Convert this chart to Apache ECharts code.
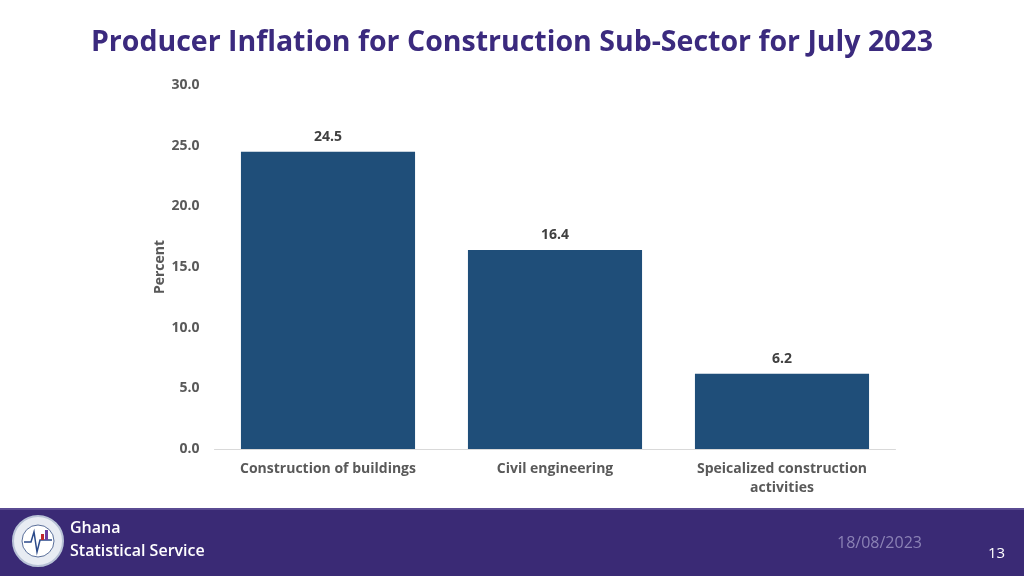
<!DOCTYPE html>
<html><head><meta charset="utf-8">
<script src="https://cdn.jsdelivr.net/npm/echarts@6/dist/echarts.min.js"></script>
<style>html,body{margin:0;padding:0;background:#fff}#c{width:1024px;height:576px}</style>
</head><body><div id="c"></div>
<script>
const categories = ['Construction of buildings', 'Civil engineering', 'Speicalized construction\nactivities'];
const values = [24.5, 16.4, 6.2];
const titleText = 'Producer Inflation for Construction Sub-Sector for July 2023';
const yAxisName = 'Percent';
const footerDate = '18/08/2023';
const pageNo = '13';

const chart = echarts.init(document.getElementById('c'));
chart.setOption({
  backgroundColor: '#ffffff',
  animation: false,
  title: {
    text: titleText, left: 'center', top: 23,
    textStyle: {fontFamily: 'Open Sans', fontWeight: 'bold', fontSize: 28.5, color: '#3b2a7e'}
  },
  grid: {left: 214.5, right: 128.5, top: 85, bottom: 127},
  xAxis: {
    type: 'category', data: categories,
    axisLine: {lineStyle: {color: '#d9d9d9', width: 1}},
    axisTick: {show: false},
    axisLabel: {interval: 0, fontFamily: 'Open Sans', fontWeight: 'bold', fontSize: 14, color: '#595959', margin: 11, lineHeight: 19}
  },
  yAxis: {
    type: 'value', min: 0, max: 30, interval: 5,
    name: yAxisName, nameLocation: 'middle', nameGap: 47, nameRotate: 90, nameMoveOverlap: false,
    nameTextStyle: {fontFamily: 'Open Sans', fontWeight: 'bold', fontSize: 14, color: '#595959'},
    axisLine: {show: false}, axisTick: {show: false}, splitLine: {show: false},
    axisLabel: {formatter: v => v.toFixed(1), fontFamily: 'Open Sans', fontWeight: 'bold', fontSize: 14, color: '#595959', margin: 15}
  },
  series: [{
    type: 'bar', data: values, barCategoryGap: '23.3%',
    itemStyle: {color: '#1f4e79'},
    label: {show: true, position: 'top', distance: 8, formatter: p => p.value.toFixed(1),
      fontFamily: 'Open Sans', fontWeight: 'bold', fontSize: 14, color: '#404040'}
  }],
  graphic: [
    {type: 'rect', shape: {x: 0, y: 508, width: 1024, height: 68}, style: {fill: '#3a2a75'}, z: -1},
    {type: 'rect', shape: {x: 0, y: 508, width: 1024, height: 2}, style: {fill: '#5a4b92'}},
    {type: 'circle', shape: {cx: 38, cy: 541, r: 25}, style: {fill: '#e8ecf3', stroke: '#b8c2d6', lineWidth: 2}},
    {type: 'circle', shape: {cx: 38, cy: 541, r: 16}, style: {fill: '#ffffff', stroke: '#5a6f9a', lineWidth: 1}},
    {type: 'polyline', shape: {points: [[24,542],[31,542],[34,532],[37,552],[40,540],[52,540]]}, style: {stroke: '#2b4a8a', lineWidth: 1.5, fill: null}},
    {type: 'rect', shape: {x: 41, y: 534, width: 3, height: 6}, style: {fill: '#c0282d'}},
    {type: 'rect', shape: {x: 45, y: 530, width: 3, height: 10}, style: {fill: '#6b3fa0'}},
    {type: 'text', left: 70, top: 520, style: {text: 'Ghana', fill: '#ffffff', font: '600 16px "Open Sans"'}},
    {type: 'text', left: 70, top: 543, style: {text: 'Statistical Service', fill: '#ffffff', font: '600 16px "Open Sans"'}},
    {type: 'text', left: 837, top: 535, style: {text: footerDate, fill: '#8b82b5', font: '16px "Open Sans"'}},
    {type: 'text', left: 988, top: 546, style: {text: pageNo, fill: '#ffffff', font: '15px "Open Sans"'}}
  ]
});
</script></body></html>
